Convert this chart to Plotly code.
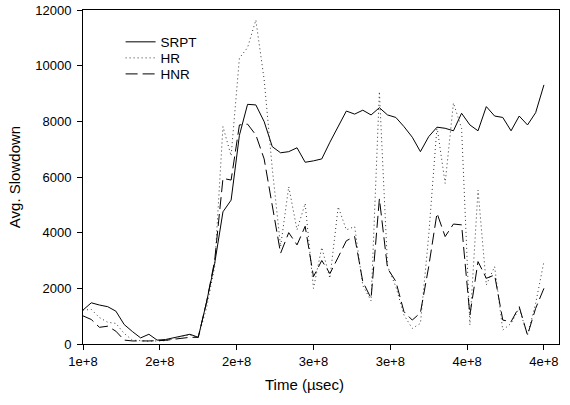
import plotly.graph_objects as go

# Time samples (in units of 1e6 microseconds)
time_e6 = [100.0, 105.4, 110.7, 116.1, 121.4, 126.8, 132.1, 137.5, 142.9, 148.2,
           153.6, 158.9, 164.3, 169.6, 175.0, 180.4, 185.7, 191.1, 196.4, 201.8,
           207.1, 212.5, 217.9, 223.2, 228.6, 233.9, 239.3, 244.6, 250.0, 255.4,
           260.7, 266.1, 271.4, 276.8, 282.1, 287.5, 292.9, 298.2, 303.6, 308.9,
           314.3, 319.6, 325.0, 330.4, 335.7, 341.1, 346.4, 351.8, 357.1, 362.5,
           367.9, 373.2, 378.6, 383.9, 389.3, 394.6, 400.0]

srpt = [1220, 1480, 1400, 1340, 1180, 700, 450, 220, 350, 140, 160, 220, 290, 350, 240,
        1500, 2900, 4750, 5170, 7500, 8610, 8590, 7990, 7090, 6870, 6910, 7050, 6530, 6580,
        6650, 7250, 7820, 8370, 8260, 8400, 8230, 8490, 8230, 8140, 7810, 7430, 6910, 7450,
        7790, 7750, 7660, 8290, 7870, 7660, 8530, 8190, 8140, 7660, 8190, 7870, 8310, 9310]

hr = [1220, 1240, 950, 780, 740, 380, 140, 120, 100, 110, 120, 200, 280, 320, 240,
      1300, 2780, 7810, 6760, 10270, 10650, 11640, 9500, 6300, 3500, 5650, 4100, 5050, 2000,
      3470, 2360, 4930, 4100, 4220, 2100, 1550, 9070, 2800, 2060, 1040, 560, 740, 3900,
      7810, 5770, 8660, 7750, 680, 5530, 2120, 2780, 500, 740, 1280, 320, 1460, 2960]

hnr = [1010, 880, 600, 640, 460, 140, 110, 100, 110, 120, 130, 170, 200, 240, 240,
       1500, 3000, 5950, 5890, 7870, 7900, 7510, 6650, 4950, 3260, 4000, 3560, 4230, 2420,
       3000, 2530, 3120, 3710, 3860, 2240, 1640, 5220, 2720, 2250, 1160, 860, 1120, 2780,
       4700, 3860, 4310, 4280, 1040, 2960, 2360, 2480, 860, 800, 1340, 320, 1280, 2000]

x_tickvals = [1.0e8, 1.5e8, 2.0e8, 2.5e8, 3.0e8, 3.5e8, 4.0e8]
x_ticktext = ["1e+8", "2e+8", "2e+8", "3e+8", "3e+8", "4e+8", "4e+8"]
y_tickvals = [0, 2000, 4000, 6000, 8000, 10000, 12000]
y_ticktext = ["0", "2000", "4000", "6000", "8000", "10000", "12000"]

t = [v * 1e6 for v in time_e6]

FONT = "Liberation Sans, Arial, sans-serif"
TICK_FONT = dict(family=FONT, size=13, color="black")
TITLE_FONT = dict(family=FONT, size=15, color="black")
LEG_FONT = dict(family=FONT, size=13.5, color="black")
LEG_X = 0.079

fig = go.Figure()
fig.add_trace(go.Scatter(x=t, y=srpt, mode="lines", name="SRPT", legend="legend",
                         line=dict(color="black", width=1)))
fig.add_trace(go.Scatter(x=t, y=hr, mode="lines", name="HR", legend="legend2",
                         line=dict(color="#333333", width=1, dash="1px,3px")))
fig.add_trace(go.Scatter(x=t, y=hnr, mode="lines", name="HNR", legend="legend3",
                         line=dict(color="black", width=1, dash="12px,5px")))

def leg(y):
    return dict(x=LEG_X, y=y, xanchor="left", yanchor="middle",
                bgcolor="rgba(0,0,0,0)", borderwidth=0, font=LEG_FONT)

fig.update_layout(
    width=570, height=405,
    margin=dict(l=83, r=11, t=10, b=61, autoexpand=False),
    paper_bgcolor="white", plot_bgcolor="white",
    font=dict(family=FONT, size=13, color="black"),
    showlegend=True,
    legend=leg(0.904),
    legend2=leg(0.856),
    legend3=leg(0.808),
    xaxis=dict(range=[1.0e8, 4.098e8], tickvals=x_tickvals, ticktext=x_ticktext,
               showgrid=False, zeroline=False, showline=True, linecolor="black",
               linewidth=1, mirror=True, ticks="outside", ticklen=5, tickcolor="black",
               tickfont=TICK_FONT),
    yaxis=dict(range=[0, 12000], tickvals=y_tickvals, ticktext=y_ticktext,
               showgrid=False, zeroline=False, showline=True, linecolor="black",
               linewidth=1, mirror=True, ticks="outside", ticklen=5, tickcolor="black",
               tickfont=TICK_FONT, ticklabelstandoff=3,
               title=dict(text="Avg. Slowdown", font=TITLE_FONT, standoff=10)),
    annotations=[dict(text="Time (µsec)", xref="paper", yref="paper",
                      x=0.466, y=-0.12, xanchor="center", yanchor="middle",
                      showarrow=False, font=TITLE_FONT)],
)

fig.write_html("out.html", config={"displayModeBar": False},
               post_script="document.body.style.margin='0';")
